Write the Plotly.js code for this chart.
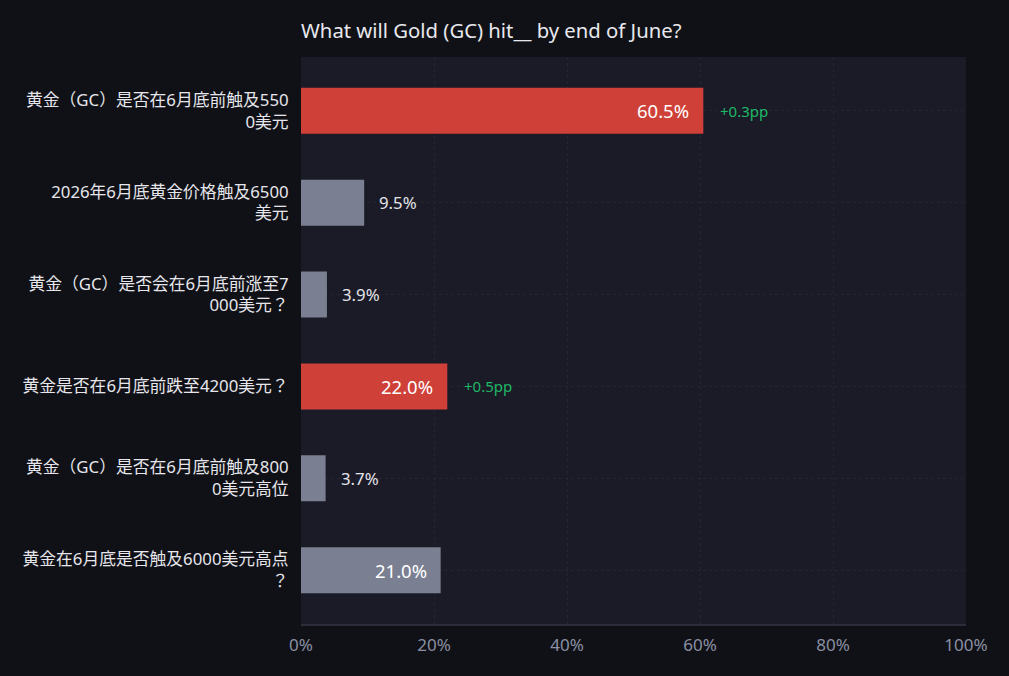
<!DOCTYPE html>
<html>
<head>
<meta charset="utf-8">
<script src="https://cdn.plot.ly/plotly-3.0.1.min.js"></script>
<style>html,body{margin:0;padding:0;background:#101116;}#chart{width:1009px;height:676px;}</style>
</head>
<body>
<div id="chart"></div>
<script>
const categories = [
  "黄金（GC）是否在6月底前触及550<br>0美元",
  "2026年6月底黄金价格触及6500<br>美元",
  "黄金（GC）是否会在6月底前涨至7<br>000美元？",
  "黄金是否在6月底前跌至4200美元？",
  "黄金（GC）是否在6月底前触及800<br>0美元高位",
  "黄金在6月底是否触及6000美元高点<br>？"
];
const values = [60.5, 9.5, 3.9, 22.0, 3.7, 21.0];
const deltas = [0.3, null, null, 0.5, null, null];
const tickVals = [0, 20, 40, 60, 80, 100];
const tickText = ["0%", "20%", "40%", "60%", "80%", "100%"];

const RED = "#cf4038", GREY = "#7a7f91";
const colors = deltas.map(d => d !== null ? RED : GREY);
const FONT = "Noto Sans, Noto Sans CJK KR, sans-serif";

const annotations = [];
values.forEach((v, i) => {
  const inside = v > 15;
  annotations.push({
    x: v, y: categories[i], xref: "x", yref: "y",
    text: v.toFixed(1) + "%",
    showarrow: false,
    xanchor: inside ? "right" : "left",
    xshift: inside ? -12 : 13,
    font: {family: FONT, size: inside ? 18.5 : 16.8, color: inside ? "#ffffff" : "#e4e4ea"}
  });
  if (deltas[i] !== null) {
    annotations.push({
      x: v, y: categories[i], xref: "x", yref: "y",
      text: "+" + deltas[i].toFixed(1) + "pp",
      showarrow: false, xanchor: "left", xshift: 15,
      font: {family: FONT, size: 15, color: "#1fb866"}
    });
  }
});

const trace = {
  type: "bar", orientation: "h",
  x: values, y: categories,
  marker: {color: colors},
  width: 0.5,
  hoverinfo: "skip"
};

const layout = {
  width: 1009, height: 676,
  paper_bgcolor: "#101116",
  plot_bgcolor: "#1a1b27",
  margin: {l: 301, r: 43, t: 57, b: 52, pad: 0},
  title: {text: "What will Gold (GC) hit__ by end of June?", x: 0, xref: "paper", xanchor: "left",
    y: 0.954, yref: "container", yanchor: "middle",
    font: {family: FONT, size: 20.3, color: "#e8e8ee"}},
  showlegend: false,
  xaxis: {
    range: [0, 100], tickvals: tickVals, ticktext: tickText,
    showgrid: true, gridcolor: "#242532", griddash: "3px,3px", gridwidth: 1,
    zeroline: false, showline: true, linecolor: "#2c2d3b", linewidth: 2,
    ticks: "outside", ticklen: 5, tickcolor: "rgba(0,0,0,0)",
    tickfont: {family: FONT, size: 17, color: "#8a8fa3"},
    fixedrange: true
  },
  yaxis: {
    range: [5.585, -0.585],
    showgrid: true, gridcolor: "#242532", griddash: "3px,3px",
    zeroline: false, showline: false,
    ticks: "outside", ticklen: 8, tickcolor: "rgba(0,0,0,0)",
    tickfont: {family: FONT, size: 16.8, color: "#e6e6ec"},
    fixedrange: true
  },
  annotations: annotations
};

Plotly.newPlot("chart", [trace], layout, {displayModeBar: false, staticPlot: true});
</script>
</body>
</html>
